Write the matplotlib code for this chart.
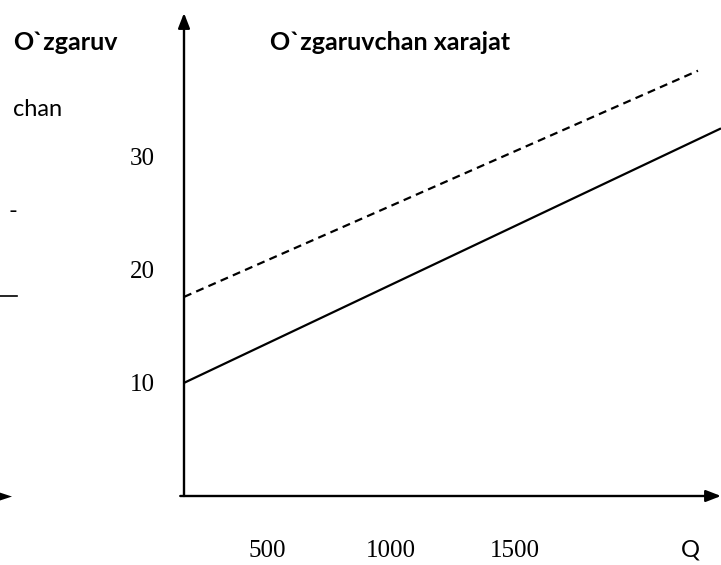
import numpy as np
import matplotlib.pyplot as plt
from matplotlib.lines import Line2D

# data
q_start = 165
q_solid_end = 2335
q_dash_end = 2242
solid_cost = [10, 32.5]
dashed_cost = [17.6, 37.6]
y_ticks = [10, 20, 30]
x_ticks = [500, 1000, 1500]

fig = plt.figure(figsize=(7.21, 5.65), dpi=100)
ax = fig.add_axes([184/721, 69/565, 537/721, 483/565])
ax.set_xlim(q_start, q_solid_end)
ax.set_ylim(0, 42.7)
for s in ax.spines.values():
    s.set_visible(False)

# the two cost lines
ax.plot([q_start, q_solid_end], solid_cost, color='black', lw=1.6, solid_capstyle='butt', clip_on=False)
ax.plot([q_start, q_dash_end], dashed_cost, color='black', lw=1.6, ls=(0, (3.6, 2.4)), clip_on=False)

# axes with arrow heads
arrow = dict(arrowstyle='-|>,head_length=0.9,head_width=0.35', color='black', lw=1.7, shrinkA=0, shrinkB=0)
ax.annotate('', xy=(0, 1), xytext=(0, 0), xycoords='axes fraction', arrowprops=arrow, annotation_clip=False)
ax.annotate('', xy=(1, 0), xytext=(-0.007, 0), xycoords='axes fraction', arrowprops=arrow, annotation_clip=False)

ax.set_yticks(y_ticks)
ax.set_yticklabels([str(v) for v in y_ticks])
ax.set_xticks(x_ticks)
ax.set_xticklabels([str(v) for v in x_ticks])
ax.tick_params(axis='y', length=0, pad=21, labelsize=18)
ax.tick_params(axis='x', length=0, pad=32, labelsize=18)
for t in ax.get_xticklabels() + ax.get_yticklabels():
    t.set_fontfamily('Liberation Serif')

# texts
fig.text(690/721, 1 - 550/565, 'Q', fontsize=17, family='Lato', ha='center', va='center')
fig.text(270/721, 1 - 43/565, 'O`zgaruvchan xarajat', fontsize=18, family='Lato', fontweight='bold', va='center')
fig.text(13/721, 1 - 43/565, 'O`zgaruv', fontsize=18, family='Lato', fontweight='bold', va='center')
fig.text(13/721, 1 - 110/565, 'chan', fontsize=17, family='Lato', va='center')

# fragments of the neighbouring chart on the left edge
fig.text(8/721, 1 - 211/565, '-', fontsize=17, family='Lato', va='center')
fig.add_artist(Line2D([0, 17/721], [1 - 296/565, 1 - 296/565], color='black', lw=1.2))
fig.text(-4/721, 1 - 496/565, '►', fontsize=15, family='DejaVu Sans', va='center')

fig.savefig('out.png', dpi=100)
